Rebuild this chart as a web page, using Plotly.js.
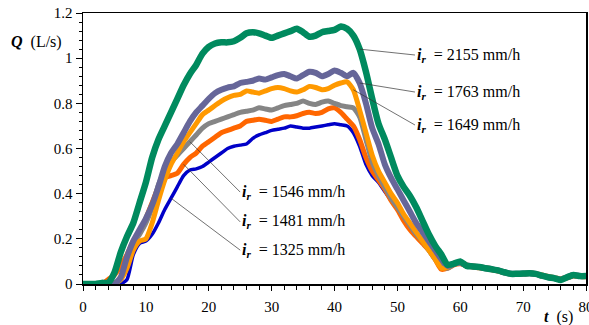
<!DOCTYPE html>
<html>
<head>
<meta charset="utf-8">
<script src="https://cdn.plot.ly/plotly-3.0.1.min.js"></script>
<style>html,body{margin:0;padding:0;background:#fff;}#chart{width:589px;height:325px;}</style>
</head>
<body>
<div id="chart"></div>
<script>
// time (s)
const t = Array.from({length: 81}, (_, i) => i);

// discharge Q (L/s) for each rainfall intensity
const q2155 = [0,0,0,0.005,0.005,0.05,0.14,0.21,0.27,0.36,0.45,0.56,0.64,0.70,0.76,0.82,0.88,0.93,0.97,1.02,1.05,1.065,1.07,1.07,1.075,1.09,1.11,1.115,1.11,1.10,1.09,1.10,1.11,1.12,1.13,1.115,1.095,1.10,1.115,1.12,1.125,1.14,1.13,1.10,1.04,0.94,0.82,0.71,0.64,0.56,0.48,0.43,0.39,0.34,0.28,0.22,0.17,0.13,0.085,0.09,0.10,0.08,0.078,0.075,0.07,0.065,0.06,0.052,0.045,0.045,0.046,0.048,0.045,0.037,0.03,0.025,0.018,0.03,0.04,0.035,0.035];
const q1763 = [0,0,0,0,0,0,0.03,0.12,0.19,0.24,0.29,0.35,0.43,0.52,0.58,0.62,0.67,0.72,0.76,0.79,0.82,0.845,0.86,0.87,0.875,0.89,0.895,0.90,0.91,0.905,0.915,0.925,0.93,0.92,0.91,0.925,0.94,0.935,0.92,0.93,0.945,0.935,0.92,0.935,0.89,0.80,0.69,0.62,0.53,0.47,0.42,0.37,0.32,0.27,0.23,0.19,0.15,0.11,0.08,0.09,0.095,0.082,0.078,0.075,0.07,0.066,0.06,0.052,0.046,0.045,0.046,0.048,0.045,0.037,0.03,0.026,0.02,0.03,0.04,0.036,0.035];
const q1649 = [0,0,0,0,0,0.005,0.02,0.07,0.15,0.19,0.20,0.27,0.37,0.46,0.53,0.58,0.63,0.67,0.71,0.75,0.77,0.79,0.81,0.825,0.835,0.84,0.855,0.85,0.845,0.855,0.865,0.87,0.865,0.855,0.85,0.86,0.875,0.87,0.86,0.865,0.88,0.89,0.895,0.86,0.77,0.67,0.57,0.50,0.45,0.40,0.36,0.31,0.27,0.23,0.19,0.15,0.11,0.07,0.075,0.092,0.095,0.085,0.08,0.076,0.072,0.067,0.06,0.053,0.047,0.046,0.047,0.05,0.046,0.04,0.033,0.028,0.024,0.03,0.038,0.036,0.034];
const q1546 = [0,0,0,0,0,0,0.02,0.10,0.18,0.22,0.27,0.34,0.44,0.50,0.54,0.57,0.60,0.63,0.66,0.69,0.71,0.72,0.73,0.74,0.75,0.76,0.765,0.77,0.78,0.775,0.77,0.78,0.79,0.795,0.80,0.81,0.80,0.795,0.805,0.81,0.80,0.79,0.785,0.78,0.74,0.64,0.54,0.48,0.43,0.38,0.34,0.30,0.26,0.22,0.19,0.15,0.11,0.08,0.07,0.088,0.092,0.08,0.077,0.074,0.07,0.064,0.058,0.05,0.045,0.044,0.045,0.047,0.044,0.036,0.03,0.025,0.02,0.028,0.038,0.034,0.033];
const q1481 = [0,0,0,0,0.02,0.04,0.08,0.13,0.19,0.23,0.29,0.36,0.43,0.47,0.48,0.49,0.53,0.56,0.58,0.61,0.63,0.65,0.67,0.68,0.69,0.70,0.72,0.725,0.73,0.725,0.72,0.73,0.74,0.74,0.745,0.755,0.76,0.755,0.76,0.775,0.78,0.76,0.73,0.70,0.64,0.56,0.50,0.46,0.42,0.37,0.33,0.28,0.24,0.21,0.18,0.15,0.11,0.065,0.07,0.085,0.09,0.08,0.075,0.072,0.068,0.063,0.057,0.05,0.045,0.043,0.044,0.046,0.043,0.036,0.03,0.025,0.02,0.027,0.035,0.033,0.032];
const q1325 = [0,0,0,0,0,0,0,0.02,0.13,0.18,0.19,0.22,0.27,0.33,0.38,0.43,0.48,0.505,0.51,0.52,0.54,0.56,0.58,0.60,0.61,0.615,0.62,0.645,0.66,0.67,0.68,0.685,0.69,0.70,0.695,0.69,0.69,0.695,0.70,0.705,0.71,0.705,0.70,0.67,0.61,0.53,0.48,0.45,0.41,0.37,0.33,0.29,0.25,0.21,0.18,0.15,0.11,0.08,0.07,0.085,0.09,0.08,0.075,0.072,0.068,0.063,0.057,0.05,0.045,0.043,0.044,0.046,0.043,0.036,0.03,0.025,0.02,0.027,0.035,0.033,0.032];

const xTicks = [0,10,20,30,40,50,60,70,80];
const yTicks = [0,0.2,0.4,0.6,0.8,1,1.2];

const serif = '"Liberation Serif", "Times New Roman", Times, "DejaVu Serif", serif';

function line(y, color, w) {
  return {x: t, y: y, type: 'scatter', mode: 'lines',
    line: {color: color, width: w, shape: 'spline', smoothing: 0.6},
    hoverinfo: 'skip', showlegend: false};
}

const data = [
  line(q1325, '#0000c8', 3.5),
  line(q1481, '#ff6600', 5),
  line(q1546, '#858585', 5),
  line(q1649, '#ff9900', 5),
  line(q1763, '#666699', 6),
  line(q2155, '#008a5e', 6.5)
];

function lbl(rate) {
  return '<b><i>i</i></b><sub><b><i>r</i></b></sub>&nbsp; = ' + rate + ' mm/h';
}
function ann(hx, hy, tx, ty, rate) {
  return {x: hx, y: hy, xref: 'x', yref: 'y', ax: tx, ay: ty, axref: 'x', ayref: 'y',
    text: lbl(rate), showarrow: true, arrowhead: 0, arrowwidth: 0.7, arrowcolor: '#333',
    xanchor: 'left', yanchor: 'middle', font: {family: serif, size: 16, color: '#000'}};
}

const layout = {
  width: 589, height: 325,
  margin: {l: 83, r: 3, t: 13, b: 41},
  paper_bgcolor: '#fff', plot_bgcolor: '#fff',
  font: {family: serif, size: 15, color: '#000'},
  xaxis: {range: [0, 80], tickvals: xTicks, ticks: 'outside', ticklen: 5, tickwidth: 1,
    tickcolor: '#000', showgrid: false, zeroline: false, showline: true, linecolor: '#000',
    linewidth: 1.5, mirror: true, ticklabeloverflow: 'allow', ticklabelstandoff: 3,
    tickfont: {family: serif, size: 15, color: '#000'},
    minor: {dtick: 2, ticks: 'outside', ticklen: 4, tickcolor: '#000', showgrid: false}},
  yaxis: {range: [0, 1.2], tickvals: yTicks, ticks: 'outside', ticklen: 6, tickwidth: 1,
    tickcolor: '#000', showgrid: false, zeroline: false, showline: true, linecolor: '#000',
    linewidth: 1.5, mirror: true, tickfont: {family: serif, size: 15, color: '#000'},
    minor: {dtick: 0.04, ticks: 'outside', ticklen: 3, tickcolor: '#000', showgrid: false}},
  annotations: [
    ann(t[44], q2155[44], 52.8, 1.014, 2155),
    ann(t[44], q1763[44], 52.8, 0.85, 1763),
    ann(t[43], q1649[43], 52.8, 0.704, 1649),
    ann(t[17], q1546[17], 25, 0.407, 1546),
    ann(t[16], q1481[16], 25, 0.275, 1481),
    ann(t[14], q1325[14], 25, 0.15, 1325),
    {xref: 'paper', yref: 'paper', x: -0.147, y: 0.893, xanchor: 'left', yanchor: 'middle',
     showarrow: false, text: '<b><i>Q</i></b>&nbsp; (L/s)', font: {family: serif, size: 16, color: '#000'}},
    {xref: 'paper', yref: 'paper', x: 0.912, y: -0.122, xanchor: 'left', yanchor: 'middle',
     showarrow: false, text: '<b><i>t</i></b>&nbsp; (s)', font: {family: serif, size: 16, color: '#000'}}
  ]
};

Plotly.newPlot('chart', data, layout, {displayModeBar: false, staticPlot: true});
</script>
</body>
</html>
